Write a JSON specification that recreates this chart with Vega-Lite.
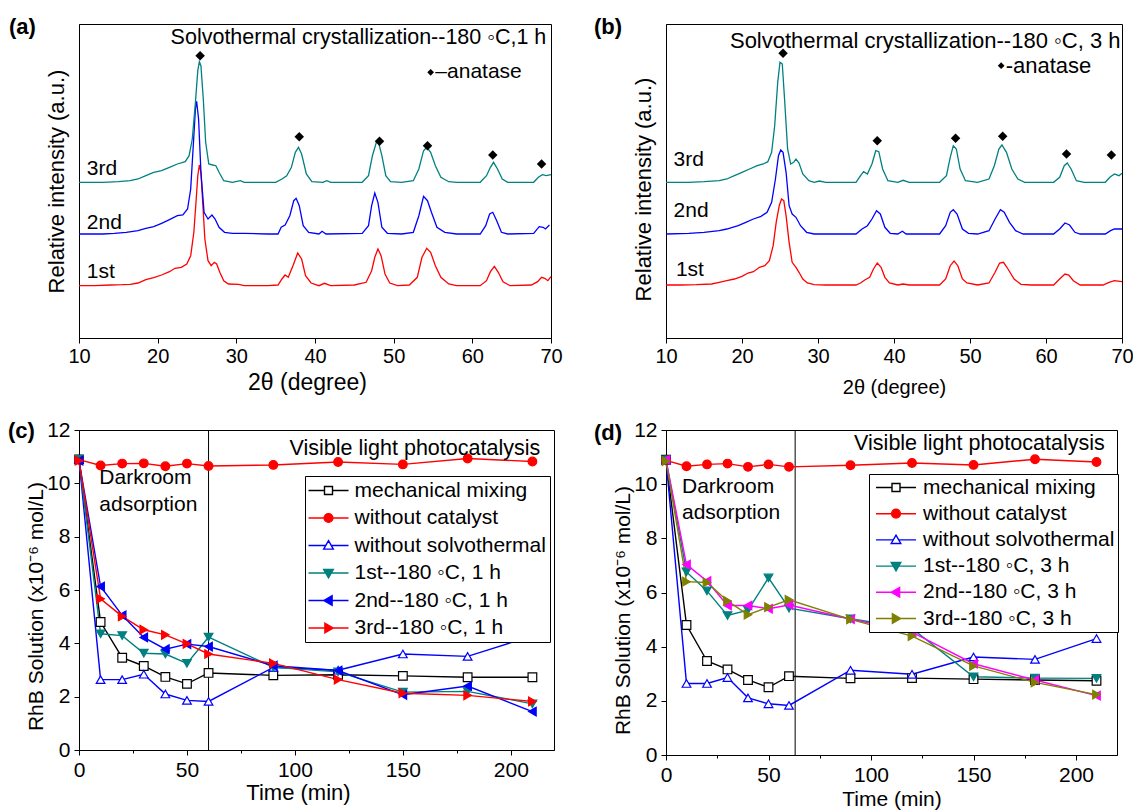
{
"$schema": "https://vega.github.io/schema/vega-lite/v6.json",
"padding": {"left": 7, "top": 15, "right": 0, "bottom": 0},
"config": {
 "font": "Liberation Sans",
 "view": {"stroke": "black", "strokeWidth": 1},
 "axis": {"grid": false, "labelFlush": false, "domainColor": "black", "tickColor": "black", "labelColor": "black", "titleColor": "black", "titleFontWeight": "normal", "labelFont": "Liberation Sans", "titleFont": "Liberation Sans", "domainWidth": 1, "tickWidth": 1},
 "legend": {"labelFont": "Liberation Sans", "labelColor": "black"},
 "text": {"font": "Liberation Sans", "color": "black"},
 "title": {"font": "Liberation Sans", "color": "black"}
},
"datasets": {
 "xa": [
{"th":10,"v":52.3,"s":"1st"},{"th":12,"v":52.3,"s":"1st"},{"th":14,"v":53,"s":"1st"},{"th":15.5,"v":53.3,"s":"1st"},{"th":16.5,"v":53.7,"s":"1st"},{"th":17.5,"v":55,"s":"1st"},{"th":18.5,"v":58.3,"s":"1st"},{"th":19.5,"v":60.3,"s":"1st"},{"th":20.5,"v":63,"s":"1st"},{"th":21.5,"v":66.3,"s":"1st"},{"th":22.2,"v":69.7,"s":"1st"},{"th":23,"v":70.7,"s":"1st"},{"th":23.7,"v":74,"s":"1st"},{"th":24.2,"v":82.3,"s":"1st"},{"th":24.6,"v":105.7,"s":"1st"},{"th":24.9,"v":139,"s":"1st"},{"th":25.1,"v":162.3,"s":"1st"},{"th":25.3,"v":173,"s":"1st"},{"th":25.5,"v":165.7,"s":"1st"},{"th":25.7,"v":139,"s":"1st"},{"th":26,"v":99,"s":"1st"},{"th":26.4,"v":77.3,"s":"1st"},{"th":26.8,"v":72.3,"s":"1st"},{"th":27.2,"v":75.7,"s":"1st"},{"th":27.5,"v":74,"s":"1st"},{"th":27.9,"v":65.7,"s":"1st"},{"th":28.4,"v":57.3,"s":"1st"},{"th":29,"v":54,"s":"1st"},{"th":30.3,"v":53.7,"s":"1st"},{"th":31,"v":52.3,"s":"1st"},{"th":34,"v":52.3,"s":"1st"},{"th":35.3,"v":53,"s":"1st"},{"th":35.8,"v":59,"s":"1st"},{"th":36.2,"v":63,"s":"1st"},{"th":36.6,"v":60.7,"s":"1st"},{"th":37.2,"v":72.3,"s":"1st"},{"th":37.8,"v":85,"s":"1st"},{"th":38.3,"v":79,"s":"1st"},{"th":38.8,"v":62.3,"s":"1st"},{"th":39.5,"v":55,"s":"1st"},{"th":40.5,"v":52.3,"s":"1st"},{"th":41.2,"v":54.7,"s":"1st"},{"th":42,"v":52.3,"s":"1st"},{"th":45,"v":53,"s":"1st"},{"th":46.5,"v":55.7,"s":"1st"},{"th":47.2,"v":67.3,"s":"1st"},{"th":47.6,"v":80.7,"s":"1st"},{"th":48,"v":89,"s":"1st"},{"th":48.4,"v":82.3,"s":"1st"},{"th":48.9,"v":64,"s":"1st"},{"th":49.5,"v":55,"s":"1st"},{"th":50.5,"v":52.3,"s":"1st"},{"th":52,"v":53,"s":"1st"},{"th":53,"v":60.7,"s":"1st"},{"th":53.6,"v":80.7,"s":"1st"},{"th":54.2,"v":89.7,"s":"1st"},{"th":54.7,"v":85.7,"s":"1st"},{"th":55.3,"v":72.3,"s":"1st"},{"th":56,"v":60.7,"s":"1st"},{"th":57,"v":54,"s":"1st"},{"th":58,"v":52.3,"s":"1st"},{"th":61,"v":52.3,"s":"1st"},{"th":61.8,"v":57.3,"s":"1st"},{"th":62.3,"v":66.3,"s":"1st"},{"th":62.8,"v":71.7,"s":"1st"},{"th":63.3,"v":65.7,"s":"1st"},{"th":63.9,"v":56.3,"s":"1st"},{"th":64.8,"v":52.3,"s":"1st"},{"th":67.5,"v":53,"s":"1st"},{"th":68.3,"v":56.3,"s":"1st"},{"th":68.8,"v":60.7,"s":"1st"},{"th":69.2,"v":59.7,"s":"1st"},{"th":69.6,"v":57.3,"s":"1st"},{"th":70,"v":61.3,"s":"1st"},
{"th":10,"v":104,"s":"2nd"},{"th":13,"v":104,"s":"2nd"},{"th":14.5,"v":104.7,"s":"2nd"},{"th":16,"v":105.7,"s":"2nd"},{"th":17.5,"v":107.3,"s":"2nd"},{"th":18.5,"v":109.7,"s":"2nd"},{"th":19.5,"v":111.3,"s":"2nd"},{"th":20.5,"v":114.7,"s":"2nd"},{"th":21.5,"v":118.3,"s":"2nd"},{"th":22.5,"v":122.3,"s":"2nd"},{"th":23.2,"v":123,"s":"2nd"},{"th":23.8,"v":129,"s":"2nd"},{"th":24.2,"v":149,"s":"2nd"},{"th":24.5,"v":189,"s":"2nd"},{"th":24.8,"v":229,"s":"2nd"},{"th":24.95,"v":236.7,"s":"2nd"},{"th":25.2,"v":219,"s":"2nd"},{"th":25.5,"v":165.7,"s":"2nd"},{"th":25.9,"v":125.7,"s":"2nd"},{"th":26.4,"v":119,"s":"2nd"},{"th":26.9,"v":123,"s":"2nd"},{"th":27.3,"v":119,"s":"2nd"},{"th":27.8,"v":110.7,"s":"2nd"},{"th":28.5,"v":105.7,"s":"2nd"},{"th":29.5,"v":104.7,"s":"2nd"},{"th":31,"v":104.7,"s":"2nd"},{"th":34,"v":104,"s":"2nd"},{"th":35.3,"v":104,"s":"2nd"},{"th":35.7,"v":110.7,"s":"2nd"},{"th":36.2,"v":113,"s":"2nd"},{"th":36.8,"v":122.3,"s":"2nd"},{"th":37.3,"v":137.3,"s":"2nd"},{"th":37.6,"v":139.7,"s":"2nd"},{"th":38,"v":132.3,"s":"2nd"},{"th":38.5,"v":112.3,"s":"2nd"},{"th":39.2,"v":105.7,"s":"2nd"},{"th":40.5,"v":104,"s":"2nd"},{"th":40.9,"v":106.7,"s":"2nd"},{"th":41.4,"v":104,"s":"2nd"},{"th":46,"v":104.7,"s":"2nd"},{"th":46.8,"v":112.3,"s":"2nd"},{"th":47.2,"v":132.3,"s":"2nd"},{"th":47.6,"v":145,"s":"2nd"},{"th":48,"v":135.7,"s":"2nd"},{"th":48.5,"v":110.7,"s":"2nd"},{"th":49.2,"v":104.7,"s":"2nd"},{"th":51,"v":104,"s":"2nd"},{"th":52.5,"v":105.7,"s":"2nd"},{"th":53.2,"v":122.3,"s":"2nd"},{"th":53.8,"v":141.7,"s":"2nd"},{"th":54.3,"v":137.3,"s":"2nd"},{"th":54.8,"v":125.7,"s":"2nd"},{"th":55.5,"v":110.7,"s":"2nd"},{"th":56.5,"v":105.7,"s":"2nd"},{"th":58,"v":104,"s":"2nd"},{"th":61,"v":104,"s":"2nd"},{"th":61.7,"v":112.3,"s":"2nd"},{"th":62.2,"v":124,"s":"2nd"},{"th":62.6,"v":125.7,"s":"2nd"},{"th":63.1,"v":117.3,"s":"2nd"},{"th":63.7,"v":105.7,"s":"2nd"},{"th":64.5,"v":104,"s":"2nd"},{"th":67.8,"v":104.7,"s":"2nd"},{"th":68.5,"v":111.3,"s":"2nd"},{"th":69,"v":110.7,"s":"2nd"},{"th":69.3,"v":109,"s":"2nd"},{"th":69.8,"v":113,"s":"2nd"},
{"th":10,"v":155.7,"s":"3rd"},{"th":13,"v":155.7,"s":"3rd"},{"th":15,"v":156.3,"s":"3rd"},{"th":16.5,"v":157.3,"s":"3rd"},{"th":17.5,"v":159,"s":"3rd"},{"th":18.5,"v":162.3,"s":"3rd"},{"th":19.5,"v":165.7,"s":"3rd"},{"th":20.5,"v":167.3,"s":"3rd"},{"th":21.5,"v":170.7,"s":"3rd"},{"th":22.5,"v":174,"s":"3rd"},{"th":23.5,"v":176.3,"s":"3rd"},{"th":24,"v":182.3,"s":"3rd"},{"th":24.4,"v":199,"s":"3rd"},{"th":24.8,"v":235.7,"s":"3rd"},{"th":25.1,"v":267.3,"s":"3rd"},{"th":25.3,"v":276.3,"s":"3rd"},{"th":25.5,"v":272.3,"s":"3rd"},{"th":25.8,"v":239,"s":"3rd"},{"th":26.1,"v":195.7,"s":"3rd"},{"th":26.5,"v":174,"s":"3rd"},{"th":27,"v":173,"s":"3rd"},{"th":27.4,"v":172.3,"s":"3rd"},{"th":27.8,"v":165.7,"s":"3rd"},{"th":28.4,"v":157.3,"s":"3rd"},{"th":29.5,"v":155.7,"s":"3rd"},{"th":30.5,"v":157.3,"s":"3rd"},{"th":31,"v":155.7,"s":"3rd"},{"th":35,"v":155.7,"s":"3rd"},{"th":35.8,"v":159,"s":"3rd"},{"th":36.4,"v":162.3,"s":"3rd"},{"th":37,"v":170.7,"s":"3rd"},{"th":37.5,"v":185.7,"s":"3rd"},{"th":37.9,"v":190.7,"s":"3rd"},{"th":38.3,"v":184,"s":"3rd"},{"th":38.9,"v":164,"s":"3rd"},{"th":39.6,"v":156.3,"s":"3rd"},{"th":41,"v":155.7,"s":"3rd"},{"th":41.5,"v":157.3,"s":"3rd"},{"th":42,"v":155.7,"s":"3rd"},{"th":46,"v":155.7,"s":"3rd"},{"th":46.8,"v":162.3,"s":"3rd"},{"th":47.3,"v":182.3,"s":"3rd"},{"th":47.8,"v":195.7,"s":"3rd"},{"th":48.1,"v":195,"s":"3rd"},{"th":48.5,"v":182.3,"s":"3rd"},{"th":49,"v":162.3,"s":"3rd"},{"th":49.6,"v":156.3,"s":"3rd"},{"th":51,"v":155.7,"s":"3rd"},{"th":52.5,"v":157.3,"s":"3rd"},{"th":53.2,"v":169,"s":"3rd"},{"th":53.8,"v":187.3,"s":"3rd"},{"th":54.2,"v":190.7,"s":"3rd"},{"th":54.7,"v":185.7,"s":"3rd"},{"th":55.3,"v":172.3,"s":"3rd"},{"th":56,"v":160.7,"s":"3rd"},{"th":57,"v":156.3,"s":"3rd"},{"th":58,"v":155.7,"s":"3rd"},{"th":61,"v":155.7,"s":"3rd"},{"th":61.8,"v":162.3,"s":"3rd"},{"th":62.3,"v":170.7,"s":"3rd"},{"th":62.7,"v":175.7,"s":"3rd"},{"th":63.2,"v":169,"s":"3rd"},{"th":63.8,"v":159,"s":"3rd"},{"th":64.5,"v":155.7,"s":"3rd"},{"th":67.8,"v":155.7,"s":"3rd"},{"th":68.4,"v":160.7,"s":"3rd"},{"th":68.9,"v":163.3,"s":"3rd"},{"th":69.4,"v":162.3,"s":"3rd"},{"th":70,"v":163.3,"s":"3rd"}
 ],
 "xb": [
{"th":10,"v":53,"s":"1st"},{"th":12,"v":53,"s":"1st"},{"th":14,"v":53.3,"s":"1st"},{"th":16,"v":54,"s":"1st"},{"th":17,"v":55.7,"s":"1st"},{"th":18,"v":57.3,"s":"1st"},{"th":19,"v":59,"s":"1st"},{"th":20,"v":61.7,"s":"1st"},{"th":20.8,"v":65,"s":"1st"},{"th":21.5,"v":66.3,"s":"1st"},{"th":22.3,"v":70.7,"s":"1st"},{"th":23,"v":72.3,"s":"1st"},{"th":23.6,"v":77.3,"s":"1st"},{"th":24.1,"v":92.3,"s":"1st"},{"th":24.5,"v":115.7,"s":"1st"},{"th":24.9,"v":132.3,"s":"1st"},{"th":25.2,"v":139,"s":"1st"},{"th":25.5,"v":137.3,"s":"1st"},{"th":25.8,"v":122.3,"s":"1st"},{"th":26.2,"v":95.7,"s":"1st"},{"th":26.6,"v":75.7,"s":"1st"},{"th":27.1,"v":70.7,"s":"1st"},{"th":27.5,"v":65.7,"s":"1st"},{"th":28,"v":59,"s":"1st"},{"th":28.6,"v":55,"s":"1st"},{"th":29.5,"v":53.3,"s":"1st"},{"th":31,"v":53,"s":"1st"},{"th":35,"v":53,"s":"1st"},{"th":35.6,"v":55,"s":"1st"},{"th":36.2,"v":58.3,"s":"1st"},{"th":36.8,"v":60.7,"s":"1st"},{"th":37.3,"v":69,"s":"1st"},{"th":37.8,"v":75,"s":"1st"},{"th":38.3,"v":70.7,"s":"1st"},{"th":38.8,"v":60.7,"s":"1st"},{"th":39.4,"v":55,"s":"1st"},{"th":40.5,"v":53,"s":"1st"},{"th":41.2,"v":54,"s":"1st"},{"th":42,"v":53,"s":"1st"},{"th":46,"v":53,"s":"1st"},{"th":46.8,"v":59,"s":"1st"},{"th":47.4,"v":72.3,"s":"1st"},{"th":47.9,"v":77,"s":"1st"},{"th":48.4,"v":72.3,"s":"1st"},{"th":49,"v":59,"s":"1st"},{"th":49.6,"v":55,"s":"1st"},{"th":51,"v":53,"s":"1st"},{"th":52.5,"v":55,"s":"1st"},{"th":53.3,"v":65.7,"s":"1st"},{"th":53.9,"v":75,"s":"1st"},{"th":54.4,"v":75.7,"s":"1st"},{"th":55,"v":69,"s":"1st"},{"th":55.8,"v":59,"s":"1st"},{"th":56.7,"v":53.7,"s":"1st"},{"th":58,"v":53,"s":"1st"},{"th":61,"v":53,"s":"1st"},{"th":61.8,"v":59,"s":"1st"},{"th":62.5,"v":64,"s":"1st"},{"th":63,"v":63,"s":"1st"},{"th":63.6,"v":57.3,"s":"1st"},{"th":64.5,"v":53,"s":"1st"},{"th":67.5,"v":53,"s":"1st"},{"th":68.3,"v":55.7,"s":"1st"},{"th":69,"v":57.3,"s":"1st"},{"th":70,"v":56.3,"s":"1st"},
{"th":10,"v":104,"s":"2nd"},{"th":13,"v":104.7,"s":"2nd"},{"th":15,"v":105.7,"s":"2nd"},{"th":17,"v":107.3,"s":"2nd"},{"th":18,"v":109,"s":"2nd"},{"th":19.5,"v":112.3,"s":"2nd"},{"th":20.5,"v":115.7,"s":"2nd"},{"th":21.5,"v":119,"s":"2nd"},{"th":22.5,"v":121.7,"s":"2nd"},{"th":23.3,"v":125.7,"s":"2nd"},{"th":23.9,"v":135.7,"s":"2nd"},{"th":24.4,"v":159,"s":"2nd"},{"th":24.8,"v":182.3,"s":"2nd"},{"th":25.1,"v":188,"s":"2nd"},{"th":25.4,"v":185.7,"s":"2nd"},{"th":25.8,"v":165.7,"s":"2nd"},{"th":26.2,"v":132.3,"s":"2nd"},{"th":26.6,"v":124,"s":"2nd"},{"th":27.1,"v":120.7,"s":"2nd"},{"th":27.7,"v":112.3,"s":"2nd"},{"th":28.5,"v":105.7,"s":"2nd"},{"th":29.5,"v":104,"s":"2nd"},{"th":35,"v":104,"s":"2nd"},{"th":35.8,"v":109,"s":"2nd"},{"th":36.5,"v":112.3,"s":"2nd"},{"th":37.1,"v":119,"s":"2nd"},{"th":37.7,"v":127.3,"s":"2nd"},{"th":38.2,"v":124,"s":"2nd"},{"th":38.8,"v":110.7,"s":"2nd"},{"th":39.5,"v":104.7,"s":"2nd"},{"th":40.5,"v":104,"s":"2nd"},{"th":41.1,"v":106.7,"s":"2nd"},{"th":41.6,"v":104,"s":"2nd"},{"th":46,"v":104,"s":"2nd"},{"th":46.8,"v":112.3,"s":"2nd"},{"th":47.4,"v":125.7,"s":"2nd"},{"th":47.8,"v":128.3,"s":"2nd"},{"th":48.3,"v":124,"s":"2nd"},{"th":49,"v":109,"s":"2nd"},{"th":49.8,"v":104.7,"s":"2nd"},{"th":51,"v":104,"s":"2nd"},{"th":52.5,"v":107.3,"s":"2nd"},{"th":53.3,"v":119,"s":"2nd"},{"th":54,"v":128.3,"s":"2nd"},{"th":54.5,"v":125.7,"s":"2nd"},{"th":55.2,"v":115.7,"s":"2nd"},{"th":56,"v":107.3,"s":"2nd"},{"th":57,"v":104,"s":"2nd"},{"th":61,"v":104,"s":"2nd"},{"th":61.8,"v":109,"s":"2nd"},{"th":62.5,"v":115,"s":"2nd"},{"th":63.1,"v":113,"s":"2nd"},{"th":63.8,"v":105.7,"s":"2nd"},{"th":64.5,"v":104,"s":"2nd"},{"th":67.8,"v":104,"s":"2nd"},{"th":68.5,"v":107.3,"s":"2nd"},{"th":69,"v":109,"s":"2nd"},{"th":70,"v":109,"s":"2nd"},
{"th":10,"v":155.7,"s":"3rd"},{"th":13,"v":155.7,"s":"3rd"},{"th":15,"v":156.3,"s":"3rd"},{"th":17,"v":157.3,"s":"3rd"},{"th":18,"v":159,"s":"3rd"},{"th":19,"v":162.3,"s":"3rd"},{"th":20,"v":165.7,"s":"3rd"},{"th":21,"v":169,"s":"3rd"},{"th":22,"v":172.3,"s":"3rd"},{"th":22.8,"v":174,"s":"3rd"},{"th":23.4,"v":176.3,"s":"3rd"},{"th":23.9,"v":185.7,"s":"3rd"},{"th":24.3,"v":212.3,"s":"3rd"},{"th":24.7,"v":255.7,"s":"3rd"},{"th":25,"v":275.7,"s":"3rd"},{"th":25.3,"v":274,"s":"3rd"},{"th":25.6,"v":239,"s":"3rd"},{"th":26,"v":189,"s":"3rd"},{"th":26.4,"v":174,"s":"3rd"},{"th":26.8,"v":175.7,"s":"3rd"},{"th":27.1,"v":179,"s":"3rd"},{"th":27.5,"v":175,"s":"3rd"},{"th":28,"v":164,"s":"3rd"},{"th":28.8,"v":157.3,"s":"3rd"},{"th":29.5,"v":155.7,"s":"3rd"},{"th":30.2,"v":157,"s":"3rd"},{"th":31,"v":155.7,"s":"3rd"},{"th":35,"v":155.7,"s":"3rd"},{"th":35.6,"v":162.3,"s":"3rd"},{"th":36,"v":166.3,"s":"3rd"},{"th":36.5,"v":164,"s":"3rd"},{"th":37.1,"v":174,"s":"3rd"},{"th":37.6,"v":187.3,"s":"3rd"},{"th":38,"v":186.3,"s":"3rd"},{"th":38.5,"v":169,"s":"3rd"},{"th":39.2,"v":157.3,"s":"3rd"},{"th":40.5,"v":155.7,"s":"3rd"},{"th":41.2,"v":157.7,"s":"3rd"},{"th":42,"v":155.7,"s":"3rd"},{"th":46,"v":155.7,"s":"3rd"},{"th":46.9,"v":162.3,"s":"3rd"},{"th":47.4,"v":180.7,"s":"3rd"},{"th":47.8,"v":192.3,"s":"3rd"},{"th":48.2,"v":189,"s":"3rd"},{"th":48.7,"v":169,"s":"3rd"},{"th":49.4,"v":157.3,"s":"3rd"},{"th":51,"v":155.7,"s":"3rd"},{"th":52.5,"v":159,"s":"3rd"},{"th":53.2,"v":172.3,"s":"3rd"},{"th":53.8,"v":189,"s":"3rd"},{"th":54.2,"v":193,"s":"3rd"},{"th":54.8,"v":185.7,"s":"3rd"},{"th":55.5,"v":169,"s":"3rd"},{"th":56.3,"v":159,"s":"3rd"},{"th":57.2,"v":155.7,"s":"3rd"},{"th":61,"v":155.7,"s":"3rd"},{"th":61.8,"v":160.7,"s":"3rd"},{"th":62.4,"v":172.3,"s":"3rd"},{"th":62.8,"v":175,"s":"3rd"},{"th":63.3,"v":169,"s":"3rd"},{"th":64,"v":157.3,"s":"3rd"},{"th":65,"v":155.7,"s":"3rd"},{"th":67.8,"v":155.7,"s":"3rd"},{"th":68.4,"v":160.7,"s":"3rd"},{"th":69,"v":164,"s":"3rd"},{"th":69.6,"v":162.3,"s":"3rd"},{"th":70,"v":164.7,"s":"3rd"}
 ],
 "kc": [
{"t":0,"c":10.9,"s":"mechanical mixing"},{"t":10,"c":4.8,"s":"mechanical mixing"},{"t":20,"c":3.46,"s":"mechanical mixing"},{"t":30,"c":3.15,"s":"mechanical mixing"},{"t":40,"c":2.74,"s":"mechanical mixing"},{"t":50,"c":2.48,"s":"mechanical mixing"},{"t":60,"c":2.89,"s":"mechanical mixing"},{"t":90,"c":2.8,"s":"mechanical mixing"},{"t":120,"c":2.82,"s":"mechanical mixing"},{"t":150,"c":2.78,"s":"mechanical mixing"},{"t":180,"c":2.73,"s":"mechanical mixing"},{"t":210,"c":2.73,"s":"mechanical mixing"},
{"t":0,"c":10.89,"s":"without catalyst"},{"t":10,"c":10.67,"s":"without catalyst"},{"t":20,"c":10.74,"s":"without catalyst"},{"t":30,"c":10.75,"s":"without catalyst"},{"t":40,"c":10.64,"s":"without catalyst"},{"t":50,"c":10.74,"s":"without catalyst"},{"t":60,"c":10.65,"s":"without catalyst"},{"t":90,"c":10.69,"s":"without catalyst"},{"t":120,"c":10.8,"s":"without catalyst"},{"t":150,"c":10.71,"s":"without catalyst"},{"t":180,"c":10.93,"s":"without catalyst"},{"t":210,"c":10.82,"s":"without catalyst"},
{"t":0,"c":10.9,"s":"without solvothermal"},{"t":10,"c":2.64,"s":"without solvothermal"},{"t":20,"c":2.64,"s":"without solvothermal"},{"t":30,"c":2.84,"s":"without solvothermal"},{"t":40,"c":2.1,"s":"without solvothermal"},{"t":50,"c":1.86,"s":"without solvothermal"},{"t":60,"c":1.82,"s":"without solvothermal"},{"t":90,"c":3.1,"s":"without solvothermal"},{"t":120,"c":2.99,"s":"without solvothermal"},{"t":150,"c":3.6,"s":"without solvothermal"},{"t":180,"c":3.51,"s":"without solvothermal"},{"t":210,"c":4.28,"s":"without solvothermal"},
{"t":0,"c":10.9,"s":"1st--180 ◦C, 1 h"},{"t":10,"c":4.36,"s":"1st--180 ◦C, 1 h"},{"t":20,"c":4.29,"s":"1st--180 ◦C, 1 h"},{"t":30,"c":3.63,"s":"1st--180 ◦C, 1 h"},{"t":40,"c":3.6,"s":"1st--180 ◦C, 1 h"},{"t":50,"c":3.25,"s":"1st--180 ◦C, 1 h"},{"t":60,"c":4.23,"s":"1st--180 ◦C, 1 h"},{"t":90,"c":3.1,"s":"1st--180 ◦C, 1 h"},{"t":120,"c":2.93,"s":"1st--180 ◦C, 1 h"},{"t":150,"c":2.17,"s":"1st--180 ◦C, 1 h"},{"t":180,"c":2.2,"s":"1st--180 ◦C, 1 h"},{"t":210,"c":1.73,"s":"1st--180 ◦C, 1 h"},
{"t":0,"c":10.85,"s":"2nd--180 ◦C, 1 h"},{"t":10,"c":6.13,"s":"2nd--180 ◦C, 1 h"},{"t":20,"c":5.05,"s":"2nd--180 ◦C, 1 h"},{"t":30,"c":4.22,"s":"2nd--180 ◦C, 1 h"},{"t":40,"c":3.78,"s":"2nd--180 ◦C, 1 h"},{"t":50,"c":3.97,"s":"2nd--180 ◦C, 1 h"},{"t":60,"c":3.88,"s":"2nd--180 ◦C, 1 h"},{"t":90,"c":3.16,"s":"2nd--180 ◦C, 1 h"},{"t":120,"c":2.98,"s":"2nd--180 ◦C, 1 h"},{"t":150,"c":2.07,"s":"2nd--180 ◦C, 1 h"},{"t":180,"c":2.4,"s":"2nd--180 ◦C, 1 h"},{"t":210,"c":1.44,"s":"2nd--180 ◦C, 1 h"},
{"t":0,"c":10.85,"s":"3rd--180 ◦C, 1 h"},{"t":10,"c":5.67,"s":"3rd--180 ◦C, 1 h"},{"t":20,"c":5.01,"s":"3rd--180 ◦C, 1 h"},{"t":30,"c":4.51,"s":"3rd--180 ◦C, 1 h"},{"t":40,"c":4.32,"s":"3rd--180 ◦C, 1 h"},{"t":50,"c":3.98,"s":"3rd--180 ◦C, 1 h"},{"t":60,"c":3.6,"s":"3rd--180 ◦C, 1 h"},{"t":90,"c":3.25,"s":"3rd--180 ◦C, 1 h"},{"t":120,"c":2.64,"s":"3rd--180 ◦C, 1 h"},{"t":150,"c":2.13,"s":"3rd--180 ◦C, 1 h"},{"t":180,"c":2.05,"s":"3rd--180 ◦C, 1 h"},{"t":210,"c":1.82,"s":"3rd--180 ◦C, 1 h"}
 ],
 "kd": [
{"t":0,"c":10.9,"s":"mechanical mixing"},{"t":10,"c":4.8,"s":"mechanical mixing"},{"t":20,"c":3.47,"s":"mechanical mixing"},{"t":30,"c":3.16,"s":"mechanical mixing"},{"t":40,"c":2.77,"s":"mechanical mixing"},{"t":50,"c":2.5,"s":"mechanical mixing"},{"t":60,"c":2.91,"s":"mechanical mixing"},{"t":90,"c":2.83,"s":"mechanical mixing"},{"t":120,"c":2.84,"s":"mechanical mixing"},{"t":150,"c":2.8,"s":"mechanical mixing"},{"t":180,"c":2.77,"s":"mechanical mixing"},{"t":210,"c":2.74,"s":"mechanical mixing"},
{"t":0,"c":10.88,"s":"without catalyst"},{"t":10,"c":10.66,"s":"without catalyst"},{"t":20,"c":10.73,"s":"without catalyst"},{"t":30,"c":10.76,"s":"without catalyst"},{"t":40,"c":10.64,"s":"without catalyst"},{"t":50,"c":10.73,"s":"without catalyst"},{"t":60,"c":10.64,"s":"without catalyst"},{"t":90,"c":10.7,"s":"without catalyst"},{"t":120,"c":10.78,"s":"without catalyst"},{"t":150,"c":10.71,"s":"without catalyst"},{"t":180,"c":10.92,"s":"without catalyst"},{"t":210,"c":10.82,"s":"without catalyst"},
{"t":0,"c":10.9,"s":"without solvothermal"},{"t":10,"c":2.64,"s":"without solvothermal"},{"t":20,"c":2.64,"s":"without solvothermal"},{"t":30,"c":2.86,"s":"without solvothermal"},{"t":40,"c":2.11,"s":"without solvothermal"},{"t":50,"c":1.89,"s":"without solvothermal"},{"t":60,"c":1.83,"s":"without solvothermal"},{"t":90,"c":3.13,"s":"without solvothermal"},{"t":120,"c":2.98,"s":"without solvothermal"},{"t":150,"c":3.62,"s":"without solvothermal"},{"t":180,"c":3.53,"s":"without solvothermal"},{"t":210,"c":4.3,"s":"without solvothermal"},
{"t":0,"c":10.9,"s":"1st--180 ◦C, 3 h"},{"t":10,"c":6.76,"s":"1st--180 ◦C, 3 h"},{"t":20,"c":6.06,"s":"1st--180 ◦C, 3 h"},{"t":30,"c":5.15,"s":"1st--180 ◦C, 3 h"},{"t":40,"c":5.35,"s":"1st--180 ◦C, 3 h"},{"t":50,"c":6.54,"s":"1st--180 ◦C, 3 h"},{"t":60,"c":5.42,"s":"1st--180 ◦C, 3 h"},{"t":90,"c":5.03,"s":"1st--180 ◦C, 3 h"},{"t":120,"c":4.67,"s":"1st--180 ◦C, 3 h"},{"t":150,"c":2.89,"s":"1st--180 ◦C, 3 h"},{"t":180,"c":2.84,"s":"1st--180 ◦C, 3 h"},{"t":210,"c":2.83,"s":"1st--180 ◦C, 3 h"},
{"t":0,"c":10.9,"s":"2nd--180 ◦C, 3 h"},{"t":10,"c":7.03,"s":"2nd--180 ◦C, 3 h"},{"t":20,"c":6.42,"s":"2nd--180 ◦C, 3 h"},{"t":30,"c":5.52,"s":"2nd--180 ◦C, 3 h"},{"t":40,"c":5.52,"s":"2nd--180 ◦C, 3 h"},{"t":50,"c":5.4,"s":"2nd--180 ◦C, 3 h"},{"t":60,"c":5.54,"s":"2nd--180 ◦C, 3 h"},{"t":90,"c":5.02,"s":"2nd--180 ◦C, 3 h"},{"t":120,"c":4.54,"s":"2nd--180 ◦C, 3 h"},{"t":150,"c":3.37,"s":"2nd--180 ◦C, 3 h"},{"t":180,"c":2.77,"s":"2nd--180 ◦C, 3 h"},{"t":210,"c":2.19,"s":"2nd--180 ◦C, 3 h"},
{"t":0,"c":10.85,"s":" 3rd--180 ◦C, 3 h"},{"t":10,"c":6.4,"s":" 3rd--180 ◦C, 3 h"},{"t":20,"c":6.37,"s":" 3rd--180 ◦C, 3 h"},{"t":30,"c":5.69,"s":" 3rd--180 ◦C, 3 h"},{"t":40,"c":5.18,"s":" 3rd--180 ◦C, 3 h"},{"t":50,"c":5.46,"s":" 3rd--180 ◦C, 3 h"},{"t":60,"c":5.73,"s":" 3rd--180 ◦C, 3 h"},{"t":90,"c":5.01,"s":" 3rd--180 ◦C, 3 h"},{"t":120,"c":4.39,"s":" 3rd--180 ◦C, 3 h"},{"t":150,"c":3.29,"s":" 3rd--180 ◦C, 3 h"},{"t":180,"c":2.68,"s":" 3rd--180 ◦C, 3 h"},{"t":210,"c":2.23,"s":" 3rd--180 ◦C, 3 h"}
 ]
},
"columns": 2,
"spacing": {"row": 92, "column": 112},
"bounds": "flush",
"concat": [
  {"width": 472, "height": 314,
   "title": {"text": "(a)", "anchor": "start", "frame": "group", "dx": -70, "offset": -25, "baseline": "middle", "fontSize": 22, "fontWeight": "bold"},
   "layer": [
    {"data": {"name": "xa"}, "mark": {"type": "line", "strokeWidth": 1.3},
     "encoding": {
      "x": {"field": "th", "type": "quantitative", "scale": {"domain": [10, 70], "nice": false},
            "axis": {"values": [10,15,20,25,30,35,40,45,50,55,60,65,70], "labelExpr": "datum.value % 10 === 0 ? datum.label : ''", "tickSize": {"condition": {"test": "datum.value % 10 === 0", "value": 5}, "value": 3}, "labelPadding": 3, "labelFontSize": 20, "title": "2θ (degree)", "titleFontSize": 23, "titleX": 228, "titleY": 44, "titleBaseline": "middle"}},
      "y": {"field": "v", "type": "quantitative", "scale": {"domain": [0, 314], "nice": false},
            "axis": {"ticks": false, "labels": false, "title": "Relative intensity (a.u.)", "titleFontSize": 22, "titleX": -23, "titleY": 157, "titleBaseline": "middle"}},
      "color": {"field": "s", "type": "nominal", "scale": {"domain": ["1st","2nd","3rd"], "range": ["#FF0000","#0000FF","#008080"]}, "legend": null}}},
    {"data": {"values": [{"th":25.4,"v":282.3},{"th":38.0,"v":201.3},{"th":48.2,"v":196.7},{"th":54.3,"v":192.3},{"th":62.6,"v":183},{"th":68.8,"v":174}]},
     "mark": {"type": "point", "shape": "diamond", "filled": true, "color": "black", "size": 90, "opacity": 1},
     "encoding": {"x": {"field": "th", "type": "quantitative"}, "y": {"field": "v", "type": "quantitative"}}},
    {"data": {"values": [{"th":54.7,"v":265.7}]},
     "mark": {"type": "point", "shape": "diamond", "filled": true, "color": "black", "size": 45, "opacity": 1},
     "encoding": {"x": {"field": "th", "type": "quantitative"}, "y": {"field": "v", "type": "quantitative"}}},
    {"data": {"values": [{"th":69.4,"v":299.7,"t":"Solvothermal crystallization--180 ◦C,1 h"}]},
     "mark": {"type": "text", "align": "right", "baseline": "middle", "fontSize": 21.5},
     "encoding": {"x": {"field": "th", "type": "quantitative"}, "y": {"field": "v", "type": "quantitative"}, "text": {"field": "t"}}},
    {"data": {"values": [{"th":55.3,"v":265.7,"t":"–anatase"}]},
     "mark": {"type": "text", "align": "left", "baseline": "middle", "fontSize": 21},
     "encoding": {"x": {"field": "th", "type": "quantitative"}, "y": {"field": "v", "type": "quantitative"}, "text": {"field": "t"}}},
    {"data": {"values": [{"th":11,"v":169,"t":"3rd"},{"th":11,"v":115,"t":"2nd"},{"th":11,"v":65.7,"t":"1st"}]},
     "mark": {"type": "text", "align": "left", "baseline": "middle", "fontSize": 21},
     "encoding": {"x": {"field": "th", "type": "quantitative"}, "y": {"field": "v", "type": "quantitative"}, "text": {"field": "t"}}}
   ]},
  {"width": 456, "height": 314,
   "title": {"text": "(b)", "anchor": "start", "frame": "group", "dx": -72, "offset": -25, "baseline": "middle", "fontSize": 22, "fontWeight": "bold"},
   "layer": [
    {"data": {"name": "xb"}, "mark": {"type": "line", "strokeWidth": 1.3},
     "encoding": {
      "x": {"field": "th", "type": "quantitative", "scale": {"domain": [10, 70], "nice": false},
            "axis": {"values": [10,15,20,25,30,35,40,45,50,55,60,65,70], "labelExpr": "datum.value % 10 === 0 ? datum.label : ''", "tickSize": {"condition": {"test": "datum.value % 10 === 0", "value": 5}, "value": 3}, "labelPadding": 3, "labelFontSize": 20, "title": "2θ (degree)", "titleFontSize": 20, "titleY": 49, "titleBaseline": "middle"}},
      "y": {"field": "v", "type": "quantitative", "scale": {"domain": [0, 314], "nice": false},
            "axis": {"ticks": false, "labels": false, "title": "Relative intensity (a.u.)", "titleFontSize": 22, "titleX": -23, "titleY": 165, "titleBaseline": "middle"}},
      "color": {"field": "s", "type": "nominal", "scale": {"domain": ["1st","2nd","3rd"], "range": ["#FF0000","#0000FF","#008080"]}, "legend": null}}},
    {"data": {"values": [{"th":25.4,"v":284.7},{"th":37.8,"v":197.3},{"th":48.1,"v":199.7},{"th":54.3,"v":201.7},{"th":62.7,"v":184},{"th":68.6,"v":183}]},
     "mark": {"type": "point", "shape": "diamond", "filled": true, "color": "black", "size": 90, "opacity": 1},
     "encoding": {"x": {"field": "th", "type": "quantitative"}, "y": {"field": "v", "type": "quantitative"}}},
    {"data": {"values": [{"th":54.1,"v":272.3}]},
     "mark": {"type": "point", "shape": "diamond", "filled": true, "color": "black", "size": 45, "opacity": 1},
     "encoding": {"x": {"field": "th", "type": "quantitative"}, "y": {"field": "v", "type": "quantitative"}}},
    {"data": {"values": [{"th":69.8,"v":297.3,"t":"Solvothermal crystallization--180 ◦C, 3 h"}]},
     "mark": {"type": "text", "align": "right", "baseline": "middle", "fontSize": 22},
     "encoding": {"x": {"field": "th", "type": "quantitative"}, "y": {"field": "v", "type": "quantitative"}, "text": {"field": "t"}}},
    {"data": {"values": [{"th":54.7,"v":272.3,"t":"-anatase"}]},
     "mark": {"type": "text", "align": "left", "baseline": "middle", "fontSize": 22},
     "encoding": {"x": {"field": "th", "type": "quantitative"}, "y": {"field": "v", "type": "quantitative"}, "text": {"field": "t"}}},
    {"data": {"values": [{"th":11,"v":178,"t":"3rd"},{"th":11,"v":127.3,"t":"2nd"},{"th":11.3,"v":68.3,"t":"1st"}]},
     "mark": {"type": "text", "align": "left", "baseline": "middle", "fontSize": 21},
     "encoding": {"x": {"field": "th", "type": "quantitative"}, "y": {"field": "v", "type": "quantitative"}, "text": {"field": "t"}}}
   ]},
  {"width": 475, "height": 320,
   "title": {"text": "(c)", "anchor": "start", "frame": "group", "dx": -71, "offset": -34, "baseline": "middle", "fontSize": 22, "fontWeight": "bold"},
   "resolve": {"scale": {"color": "independent", "shape": "independent", "stroke": "independent", "fill": "independent"}},
   "layer": [
    {"data": {"values": [{}]}, "mark": {"type": "rule", "color": "black", "strokeWidth": 1}, "encoding": {"x": {"datum": 60, "type": "quantitative"}}},
    {"data": {"name": "kc"}, "mark": {"type": "line", "strokeWidth": 1.4},
     "encoding": {
      "x": {"field": "t", "type": "quantitative", "scale": {"domain": [0, 220], "nice": false},
            "axis": {"values": [0,25,50,75,100,125,150,175,200], "labelExpr": "datum.value % 50 === 0 ? datum.label : ''", "tickSize": {"condition": {"test": "datum.value % 50 === 0", "value": 5}, "value": 3}, "labelPadding": 4, "labelFontSize": 21, "title": "Time (min)", "titleFontSize": 22, "titleX": 219, "titleY": 42, "titleBaseline": "middle"}},
      "y": {"field": "c", "type": "quantitative", "scale": {"domain": [0, 12], "nice": false},
            "axis": {"values": [0,1,2,3,4,5,6,7,8,9,10,11,12], "labelExpr": "datum.value % 2 === 0 ? datum.label : ''", "tickSize": {"condition": {"test": "datum.value % 2 === 0", "value": 5}, "value": 3}, "labelPadding": 4, "labelFontSize": 21, "title": "RhB Solution (x10⁻⁶ mol/L)", "titleFontSize": 21, "titleX": -43, "titleY": 176, "titleBaseline": "middle"}},
      "color": {"field": "s", "type": "nominal", "scale": {"domain": ["mechanical mixing","without catalyst","without solvothermal","1st--180 ◦C, 1 h","2nd--180 ◦C, 1 h","3rd--180 ◦C, 1 h"], "range": ["#000000","#FF0000","#0000FF","#008080","#0000FF","#FF0000"]}, "legend": null}}},
    {"data": {"name": "kc"}, "mark": {"type": "point", "size": 75, "opacity": 1, "strokeWidth": 1.2},
     "encoding": {
      "x": {"field": "t", "type": "quantitative"}, "y": {"field": "c", "type": "quantitative"},
      "shape": {"field": "s", "type": "nominal", "scale": {"domain": ["mechanical mixing","without catalyst","without solvothermal","1st--180 ◦C, 1 h","2nd--180 ◦C, 1 h","3rd--180 ◦C, 1 h"], "range": ["square","circle","triangle-up","triangle-down","triangle-left","triangle-right"]}, "legend": null},
      "stroke": {"field": "s", "type": "nominal", "scale": {"domain": ["mechanical mixing","without catalyst","without solvothermal","1st--180 ◦C, 1 h","2nd--180 ◦C, 1 h","3rd--180 ◦C, 1 h"], "range": ["#000000","#FF0000","#0000FF","#008080","#0000FF","#FF0000"]}, "legend": null},
      "fill": {"field": "s", "type": "nominal", "scale": {"domain": ["mechanical mixing","without catalyst","without solvothermal","1st--180 ◦C, 1 h","2nd--180 ◦C, 1 h","3rd--180 ◦C, 1 h"], "range": ["#FFFFFF","#FF0000","#FFFFFF","#008080","#0000FF","#FF0000"]}, "legend": null}}},
    {"data": {"name": "kc"}, "transform": [{"filter": "false"}], "mark": {"type": "point", "opacity": 1},
     "encoding": {
      "x": {"field": "t", "type": "quantitative"}, "y": {"field": "c", "type": "quantitative"},
      "shape": {"field": "s", "type": "nominal", "scale": {"domain": ["mechanical mixing","without catalyst","without solvothermal","1st--180 ◦C, 1 h","2nd--180 ◦C, 1 h","3rd--180 ◦C, 1 h"], "range": ["M-5,0H-1M1,0H5M-1,-1H1V1H-1Z","M-5,0H-1.1M1.1,0H5M-1.1,0A1.1,1.1,0,1,1,1.1,0A1.1,1.1,0,1,1,-1.1,0Z","M-5,0H-0.7M0.7,0H5M0,-1.2L1.2,0.9H-1.2Z","M-5,0H-0.7M0.7,0H5M0,1.2L1.2,-0.9H-1.2Z","M-5,0H-1.2M0.9,0H5M-1.2,0L0.9,-1.2V1.2Z","M-5,0H-0.9M1.2,0H5M1.2,0L-0.9,-1.2V1.2Z"]},
                "legend": {"orient": "none", "legendX": 226, "legendY": 46, "title": null, "padding": 4, "rowPadding": 5.5, "symbolOffset": 9, "labelOffset": 15.5, "labelFontSize": 21, "symbolSize": 64, "symbolStrokeWidth": 1.4, "labelLimit": 0, "strokeColor": "black", "fillColor": "white"}},
      "stroke": {"field": "s", "type": "nominal", "scale": {"domain": ["mechanical mixing","without catalyst","without solvothermal","1st--180 ◦C, 1 h","2nd--180 ◦C, 1 h","3rd--180 ◦C, 1 h"], "range": ["#000000","#FF0000","#0000FF","#008080","#0000FF","#FF0000"]},
                "legend": {"orient": "none", "legendX": 226, "legendY": 46, "title": null, "padding": 4, "rowPadding": 5.5, "symbolOffset": 9, "labelOffset": 15.5, "labelFontSize": 21, "symbolSize": 64, "symbolStrokeWidth": 1.4, "labelLimit": 0, "strokeColor": "black", "fillColor": "white"}},
      "fill": {"field": "s", "type": "nominal", "scale": {"domain": ["mechanical mixing","without catalyst","without solvothermal","1st--180 ◦C, 1 h","2nd--180 ◦C, 1 h","3rd--180 ◦C, 1 h"], "range": ["#FFFFFF","#FF0000","#FFFFFF","#008080","#0000FF","#FF0000"]},
                "legend": {"orient": "none", "legendX": 226, "legendY": 46, "title": null, "padding": 4, "rowPadding": 5.5, "symbolOffset": 9, "labelOffset": 15.5, "labelFontSize": 21, "symbolSize": 64, "symbolStrokeWidth": 1.4, "labelLimit": 0, "strokeColor": "black", "fillColor": "white"}}}},
    {"data": {"values": [{"t":213.6,"c":11.27,"l":"Visible light photocatalysis"}]},
     "mark": {"type": "text", "align": "right", "baseline": "middle", "fontSize": 21.5},
     "encoding": {"x": {"field": "t", "type": "quantitative"}, "y": {"field": "c", "type": "quantitative"}, "text": {"field": "l"}}},
    {"data": {"values": [{"t":9.4,"c":10.2,"l":"Darkroom"},{"t":9.4,"c":9.18,"l":"adsorption"}]},
     "mark": {"type": "text", "align": "left", "baseline": "middle", "fontSize": 21},
     "encoding": {"x": {"field": "t", "type": "quantitative"}, "y": {"field": "c", "type": "quantitative"}, "text": {"field": "l"}}}
   ]},
  {"width": 451, "height": 325,
   "title": {"text": "(d)", "anchor": "start", "frame": "group", "dx": -72, "offset": -36, "baseline": "middle", "fontSize": 22, "fontWeight": "bold"},
   "resolve": {"scale": {"color": "independent", "shape": "independent", "stroke": "independent", "fill": "independent"}},
   "layer": [
    {"data": {"values": [{}]}, "mark": {"type": "rule", "color": "black", "strokeWidth": 1}, "encoding": {"x": {"datum": 63, "type": "quantitative"}}},
    {"data": {"name": "kd"}, "mark": {"type": "line", "strokeWidth": 1.4},
     "encoding": {
      "x": {"field": "t", "type": "quantitative", "scale": {"domain": [0, 220], "nice": false},
            "axis": {"values": [0,25,50,75,100,125,150,175,200], "labelExpr": "datum.value % 50 === 0 ? datum.label : ''", "tickSize": {"condition": {"test": "datum.value % 50 === 0", "value": 5}, "value": 3}, "labelPadding": 4, "labelFontSize": 21, "title": "Time (min)", "titleFontSize": 21, "titleY": 44, "titleBaseline": "middle"}},
      "y": {"field": "c", "type": "quantitative", "scale": {"domain": [0, 12], "nice": false},
            "axis": {"values": [0,1,2,3,4,5,6,7,8,9,10,11,12], "labelExpr": "datum.value % 2 === 0 ? datum.label : ''", "tickSize": {"condition": {"test": "datum.value % 2 === 0", "value": 5}, "value": 3}, "labelPadding": 4, "labelFontSize": 21, "title": "RhB Solution (x10⁻⁶ mol/L)", "titleFontSize": 21, "titleX": -43, "titleY": 180, "titleBaseline": "middle"}},
      "color": {"field": "s", "type": "nominal", "scale": {"domain": ["mechanical mixing","without catalyst","without solvothermal","1st--180 ◦C, 3 h","2nd--180 ◦C, 3 h"," 3rd--180 ◦C, 3 h"], "range": ["#000000","#FF0000","#0000FF","#008080","#FF00FF","#808000"]}, "legend": null}}},
    {"data": {"name": "kd"}, "mark": {"type": "point", "size": 75, "opacity": 1, "strokeWidth": 1.2},
     "encoding": {
      "x": {"field": "t", "type": "quantitative"}, "y": {"field": "c", "type": "quantitative"},
      "shape": {"field": "s", "type": "nominal", "scale": {"domain": ["mechanical mixing","without catalyst","without solvothermal","1st--180 ◦C, 3 h","2nd--180 ◦C, 3 h"," 3rd--180 ◦C, 3 h"], "range": ["square","circle","triangle-up","triangle-down","triangle-left","triangle-right"]}, "legend": null},
      "stroke": {"field": "s", "type": "nominal", "scale": {"domain": ["mechanical mixing","without catalyst","without solvothermal","1st--180 ◦C, 3 h","2nd--180 ◦C, 3 h"," 3rd--180 ◦C, 3 h"], "range": ["#000000","#FF0000","#0000FF","#008080","#FF00FF","#808000"]}, "legend": null},
      "fill": {"field": "s", "type": "nominal", "scale": {"domain": ["mechanical mixing","without catalyst","without solvothermal","1st--180 ◦C, 3 h","2nd--180 ◦C, 3 h"," 3rd--180 ◦C, 3 h"], "range": ["#FFFFFF","#FF0000","#FFFFFF","#008080","#FF00FF","#808000"]}, "legend": null}}},
    {"data": {"name": "kd"}, "transform": [{"filter": "false"}], "mark": {"type": "point", "opacity": 1},
     "encoding": {
      "x": {"field": "t", "type": "quantitative"}, "y": {"field": "c", "type": "quantitative"},
      "shape": {"field": "s", "type": "nominal", "scale": {"domain": ["mechanical mixing","without catalyst","without solvothermal","1st--180 ◦C, 3 h","2nd--180 ◦C, 3 h"," 3rd--180 ◦C, 3 h"], "range": ["M-5,0H-1M1,0H5M-1,-1H1V1H-1Z","M-5,0H-1.1M1.1,0H5M-1.1,0A1.1,1.1,0,1,1,1.1,0A1.1,1.1,0,1,1,-1.1,0Z","M-5,0H-0.7M0.7,0H5M0,-1.2L1.2,0.9H-1.2Z","M-5,0H-0.7M0.7,0H5M0,1.2L1.2,-0.9H-1.2Z","M-5,0H-1.2M0.9,0H5M-1.2,0L0.9,-1.2V1.2Z","M-5,0H-0.9M1.2,0H5M1.2,0L-0.9,-1.2V1.2Z"]},
                "legend": {"orient": "none", "legendX": 203, "legendY": 44, "title": null, "padding": 3, "rowPadding": 4.2, "symbolOffset": 13.5, "labelOffset": 16.5, "labelFontSize": 21, "symbolSize": 64, "symbolStrokeWidth": 1.4, "labelLimit": 0, "strokeColor": "black", "fillColor": "white"}},
      "stroke": {"field": "s", "type": "nominal", "scale": {"domain": ["mechanical mixing","without catalyst","without solvothermal","1st--180 ◦C, 3 h","2nd--180 ◦C, 3 h"," 3rd--180 ◦C, 3 h"], "range": ["#000000","#FF0000","#0000FF","#008080","#FF00FF","#808000"]},
                "legend": {"orient": "none", "legendX": 203, "legendY": 44, "title": null, "padding": 3, "rowPadding": 4.2, "symbolOffset": 13.5, "labelOffset": 16.5, "labelFontSize": 21, "symbolSize": 64, "symbolStrokeWidth": 1.4, "labelLimit": 0, "strokeColor": "black", "fillColor": "white"}},
      "fill": {"field": "s", "type": "nominal", "scale": {"domain": ["mechanical mixing","without catalyst","without solvothermal","1st--180 ◦C, 3 h","2nd--180 ◦C, 3 h"," 3rd--180 ◦C, 3 h"], "range": ["#FFFFFF","#FF0000","#FFFFFF","#008080","#FF00FF","#808000"]},
                "legend": {"orient": "none", "legendX": 203, "legendY": 44, "title": null, "padding": 3, "rowPadding": 4.2, "symbolOffset": 13.5, "labelOffset": 16.5, "labelFontSize": 21, "symbolSize": 64, "symbolStrokeWidth": 1.4, "labelLimit": 0, "strokeColor": "black", "fillColor": "white"}}}},
    {"data": {"values": [{"t":214,"c":11.48,"l":"Visible light photocatalysis"}]},
     "mark": {"type": "text", "align": "right", "baseline": "middle", "fontSize": 21.5},
     "encoding": {"x": {"field": "t", "type": "quantitative"}, "y": {"field": "c", "type": "quantitative"}, "text": {"field": "l"}}},
    {"data": {"values": [{"t":7.8,"c":9.9,"l":"Darkroom"},{"t":7.8,"c":8.95,"l":"adsorption"}]},
     "mark": {"type": "text", "align": "left", "baseline": "middle", "fontSize": 21},
     "encoding": {"x": {"field": "t", "type": "quantitative"}, "y": {"field": "c", "type": "quantitative"}, "text": {"field": "l"}}}
   ]}
]
}
